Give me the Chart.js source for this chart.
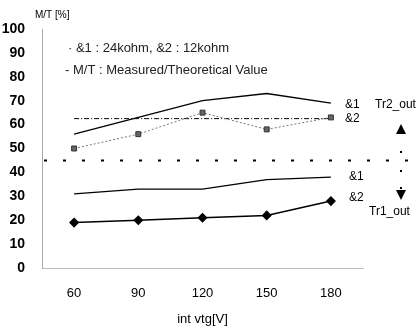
<!DOCTYPE html>
<html>
<head>
<meta charset="utf-8">
<script src="https://cdn.jsdelivr.net/npm/chart.js@4.4.0/dist/chart.umd.min.js"></script>
<style>
  html, body { margin: 0; padding: 0; background: #fff; }
  #wrap { width: 418px; height: 327px; position: relative; }
</style>
</head>
<body>
<div id="wrap"><canvas id="mycanvas"></canvas></div>
<script>
// data
var vtgLabels = ['60', '90', '120', '150', '180'];
var tr2Amp1 = [56, 63, 70, 73, 69];   // &1, Tr2_out
var tr2Amp2 = [50, 56, 65, 58, 63];   // &2, Tr2_out
var tr2Ref = [62.5, 62.5, 62.5, 62.5, 62.5];
var tr1Amp1 = [31, 33, 33, 37, 38];   // &1, Tr1_out
var tr1Amp2 = [19, 20, 21, 22, 28];   // &2, Tr1_out
var splitLevel = 45;

var FONT = '"Liberation Sans", Arial, sans-serif';

var notes = {
  id: 'notes',
  afterDatasetsDraw: function(chart) {
    var c = chart.ctx, a = chart.chartArea;
    var x = chart.scales.x, y = chart.scales.y;
    c.save();
    // dotted split line
    var ys = y.getPixelForValue(splitLevel);
    c.strokeStyle = '#000';
    c.lineWidth = 2;
    c.setLineDash([3, 16]);
    c.beginPath();
    c.moveTo(a.left + 2, ys);
    c.lineTo(chart.width, ys);
    c.stroke();
    c.setLineDash([]);

    c.fillStyle = '#000';
    c.textBaseline = 'middle';
    c.textAlign = 'left';
    c.font = '10px ' + FONT;
    c.fillText('M/T [%]', 35, 15);

    c.font = '13px ' + FONT;
    c.fillStyle = '#222';
    c.fillText('\u00b7 &1 : 24kohm, &2 : 12kohm', 68, 48);
    c.fillText('- M/T : Measured/Theoretical Value', 65, 70);
    c.fillStyle = '#000';

    // series tags at the last point
    var xl = x.getPixelForValue(4) + 14;
    c.font = '12px ' + FONT;
    c.fillText('&1', xl, y.getPixelForValue(tr2Amp1[4]) + 2);
    c.fillText('&2', xl, y.getPixelForValue(tr2Amp2[4]) + 1);
    c.fillText('&1', xl + 4, y.getPixelForValue(tr1Amp1[4]) + 0);
    c.fillText('&2', xl + 4, y.getPixelForValue(tr1Amp2[4]) - 3);

    c.fillText('Tr2_out', 375, y.getPixelForValue(tr2Amp1[4]) + 2);
    c.fillText('Tr1_out', 369, 212);

    // arrows
    var ax = 401;
    c.beginPath();
    c.moveTo(ax, 124); c.lineTo(ax - 5, 134); c.lineTo(ax + 5, 134); c.closePath();
    c.fill();
    c.beginPath();
    c.moveTo(ax, 200); c.lineTo(ax - 5, 190); c.lineTo(ax + 5, 190); c.closePath();
    c.fill();
    c.fillRect(ax - 1, 151, 2, 2);
    c.fillRect(ax - 1, 170, 2, 2);
    c.fillRect(ax - 1, 187, 2, 2);
    c.restore();
  }
};

var ctx = document.getElementById('mycanvas');
new Chart(ctx, {
  type: 'line',
  data: {
    labels: vtgLabels,
    datasets: [
      { data: tr2Amp1, borderColor: '#000', borderWidth: 1.3, pointRadius: 0, tension: 0 },
      { data: tr2Amp2, borderColor: '#777', borderWidth: 1, borderDash: [2, 2],
        pointStyle: 'rect', pointRadius: 3.5, pointBackgroundColor: '#666', pointBorderColor: '#333', pointBorderWidth: 1 },
      { data: tr2Ref, borderColor: '#000', borderWidth: 1, borderDash: [5, 2, 1, 2], pointRadius: 0 },
      { data: tr1Amp1, borderColor: '#000', borderWidth: 1.3, pointRadius: 0 },
      { data: tr1Amp2, borderColor: '#000', borderWidth: 1.5,
        pointStyle: 'rectRot', pointRadius: 4, pointBackgroundColor: '#000', pointBorderColor: '#000' }
    ]
  },
  options: {
    responsive: true,
    maintainAspectRatio: false,
    animation: false,
    layout: { padding: { top: 29, right: 55, left: 0, bottom: 0 } },
    plugins: { legend: { display: false }, tooltip: { enabled: false } },
    scales: {
      x: {
        offset: true,
        grid: { display: false },
        border: { color: '#bbb', dash: [6, 10] },
        ticks: { color: '#000', font: { family: FONT, size: 13 }, padding: 10 },
        title: { display: true, text: 'int vtg[V]', color: '#000', font: { family: FONT, size: 13 }, padding: { top: 8, bottom: 0 } },
        afterFit: function(s) { s.height = 59; }
      },
      y: {
        min: 0, max: 100,
        grid: { display: false },
        border: { color: '#aaa', dash: [1, 11] },
        ticks: { stepSize: 10, color: '#000', font: { family: FONT, size: 14, weight: 'bold' }, padding: 9 },
        afterFit: function(s) { s.width = 42; }
      }
    }
  },
  plugins: [notes]
});
</script>
</body>
</html>
